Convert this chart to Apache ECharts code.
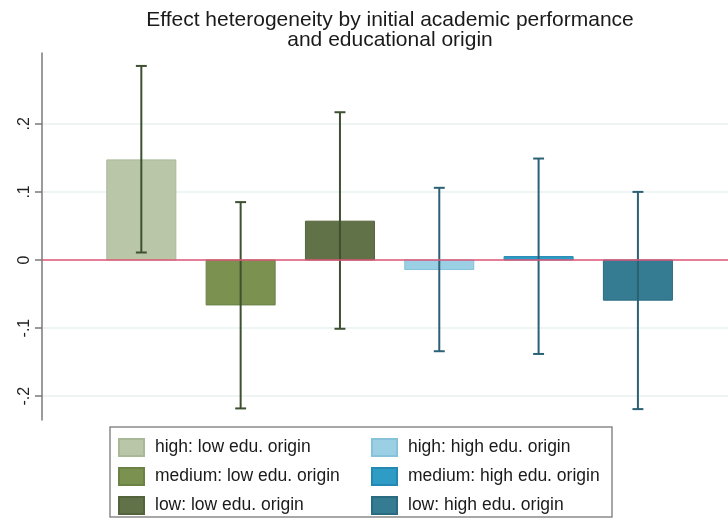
<!DOCTYPE html>
<html>
<head>
<meta charset="utf-8">
<script src="https://cdn.jsdelivr.net/npm/echarts@6/dist/echarts.min.js"></script>
<style>html,body{margin:0;padding:0;background:#fff}#c{width:728px;height:518px}</style>
</head>
<body>
<div id="c"></div>
<script>
var categories = ['high: low edu. origin', 'medium: low edu. origin', 'low: low edu. origin',
                  'high: high edu. origin', 'medium: high edu. origin', 'low: high edu. origin'];
var positions = [1, 2, 3, 4, 5, 6];
var estimates = [0.147, -0.066, 0.057, -0.014, 0.005, -0.059];
var ciLow = [0.011, -0.218, -0.101, -0.134, -0.138, -0.219];
var ciHigh = [0.285, 0.085, 0.217, 0.106, 0.149, 0.100];
var yTickValues = [-0.2, -0.1, 0, 0.1, 0.2];
var yTickLabels = ['-.2', '-.1', '0', '.1', '.2'];

var barColors = ['#b9c7a8', '#7a9150', '#617148', '#9acfe4', '#2f9cc6', '#357c93'];
var barBorders = ['#a9b897', '#6b8244', '#53633c', '#86c2da', '#2389b2', '#2a6b80'];
var errColors = ['#3d5030', '#3d5030', '#3d5030', '#2b6175', '#2b6175', '#2b6175'];

var FONT = 'Liberation Sans, Arial, sans-serif';

function renderItem(params, api) {
  var x = api.value(0), v = api.value(1), lo = api.value(2), hi = api.value(3);
  var unit = api.size([1, 0])[0];
  var bw = unit * 0.695;
  var cap = unit * 0.11;
  var pTop = api.coord([x, Math.max(v, 0)]);
  var pBot = api.coord([x, Math.min(v, 0)]);
  var pLo = api.coord([x, lo]);
  var pHi = api.coord([x, hi]);
  var i = params.seriesIndex;
  return {
    type: 'group',
    children: [
      { type: 'rect', shape: { x: pTop[0] - bw / 2, y: pTop[1], width: bw, height: Math.max(pBot[1] - pTop[1], 1) },
        style: { fill: barColors[i], stroke: barBorders[i], lineWidth: 1 } },
      { type: 'line', shape: { x1: pHi[0], y1: pHi[1], x2: pLo[0], y2: pLo[1] },
        style: { stroke: errColors[i], lineWidth: 2 } },
      { type: 'line', shape: { x1: pHi[0] - cap / 2, y1: pHi[1], x2: pHi[0] + cap / 2, y2: pHi[1] },
        style: { stroke: errColors[i], lineWidth: 2 } },
      { type: 'line', shape: { x1: pLo[0] - cap / 2, y1: pLo[1], x2: pLo[0] + cap / 2, y2: pLo[1] },
        style: { stroke: errColors[i], lineWidth: 2 } }
    ]
  };
}

var series = categories.map(function (name, i) {
  return {
    name: name,
    type: 'custom',
    renderItem: renderItem,
    itemStyle: { color: barColors[i], borderColor: barBorders[i], borderWidth: 1 },
    encode: { x: 0, y: [1, 2, 3] },
    data: [[positions[i], estimates[i], ciLow[i], ciHigh[i]]],
    z: 2
  };
});
series.push({
  type: 'line',
  data: [],
  z: 5,
  markLine: {
    silent: true, symbol: 'none', label: { show: false },
    lineStyle: { color: '#e0577a', width: 1.5, type: 'solid' },
    data: [{ yAxis: 0 }]
  }
});

function legendCfg(names, left) {
  return {
    orient: 'vertical', left: left, top: 438, padding: 0,
    itemWidth: 25, itemHeight: 17, itemGap: 10,
    icon: 'rect',
    data: names,
    selectedMode: false,
    textStyle: { fontFamily: FONT, fontSize: 17.5, color: '#1a1a1a', padding: [0, 0, 0, 6] }
  };
}

var option = {
  animation: false,
  backgroundColor: '#fff',
  title: {
    text: 'Effect heterogeneity by initial academic performance\nand educational origin',
    left: 390, textAlign: 'center', top: 10, padding: 0,
    textStyle: { fontFamily: FONT, fontSize: 21, fontWeight: 'normal', color: '#1a1a1a', lineHeight: 20 }
  },
  grid: { left: 42, right: 0, top: 53, bottom: 98 },
  xAxis: {
    type: 'value', min: 0, max: 6.907,
    show: false, splitLine: { show: false }
  },
  yAxis: {
    type: 'value', min: -0.235, max: 0.304,
    interval: 0.1,
    axisLine: { show: true, lineStyle: { color: '#7a7a7a', width: 1.5 } },
    axisTick: { show: true, length: 7, lineStyle: { color: '#7a7a7a', width: 1.5 },
      customValues: yTickValues },
    axisLabel: {
      rotate: 90, margin: 9, fontFamily: FONT, fontSize: 16, color: '#222',
      customValues: yTickValues,
      formatter: function (v) {
        for (var k = 0; k < yTickValues.length; k++) {
          if (Math.abs(v - yTickValues[k]) < 1e-6) return yTickLabels[k];
        }
        return '';
      }
    },
    splitLine: { show: true, lineStyle: { color: '#eaf1f2', width: 1.5 } }
  },
  legend: [legendCfg(categories.slice(0, 3), 118), legendCfg(categories.slice(3), 371)],
  graphic: [{
    type: 'rect', z: -1,
    shape: { x: 110, y: 427, width: 502, height: 90 },
    style: { fill: '#fff', stroke: '#8a8a8a', lineWidth: 1.5 }
  }],
  series: series
};

var chart = echarts.init(document.getElementById('c'), null, { renderer: 'canvas' });
chart.setOption(option);
</script>
</body>
</html>
